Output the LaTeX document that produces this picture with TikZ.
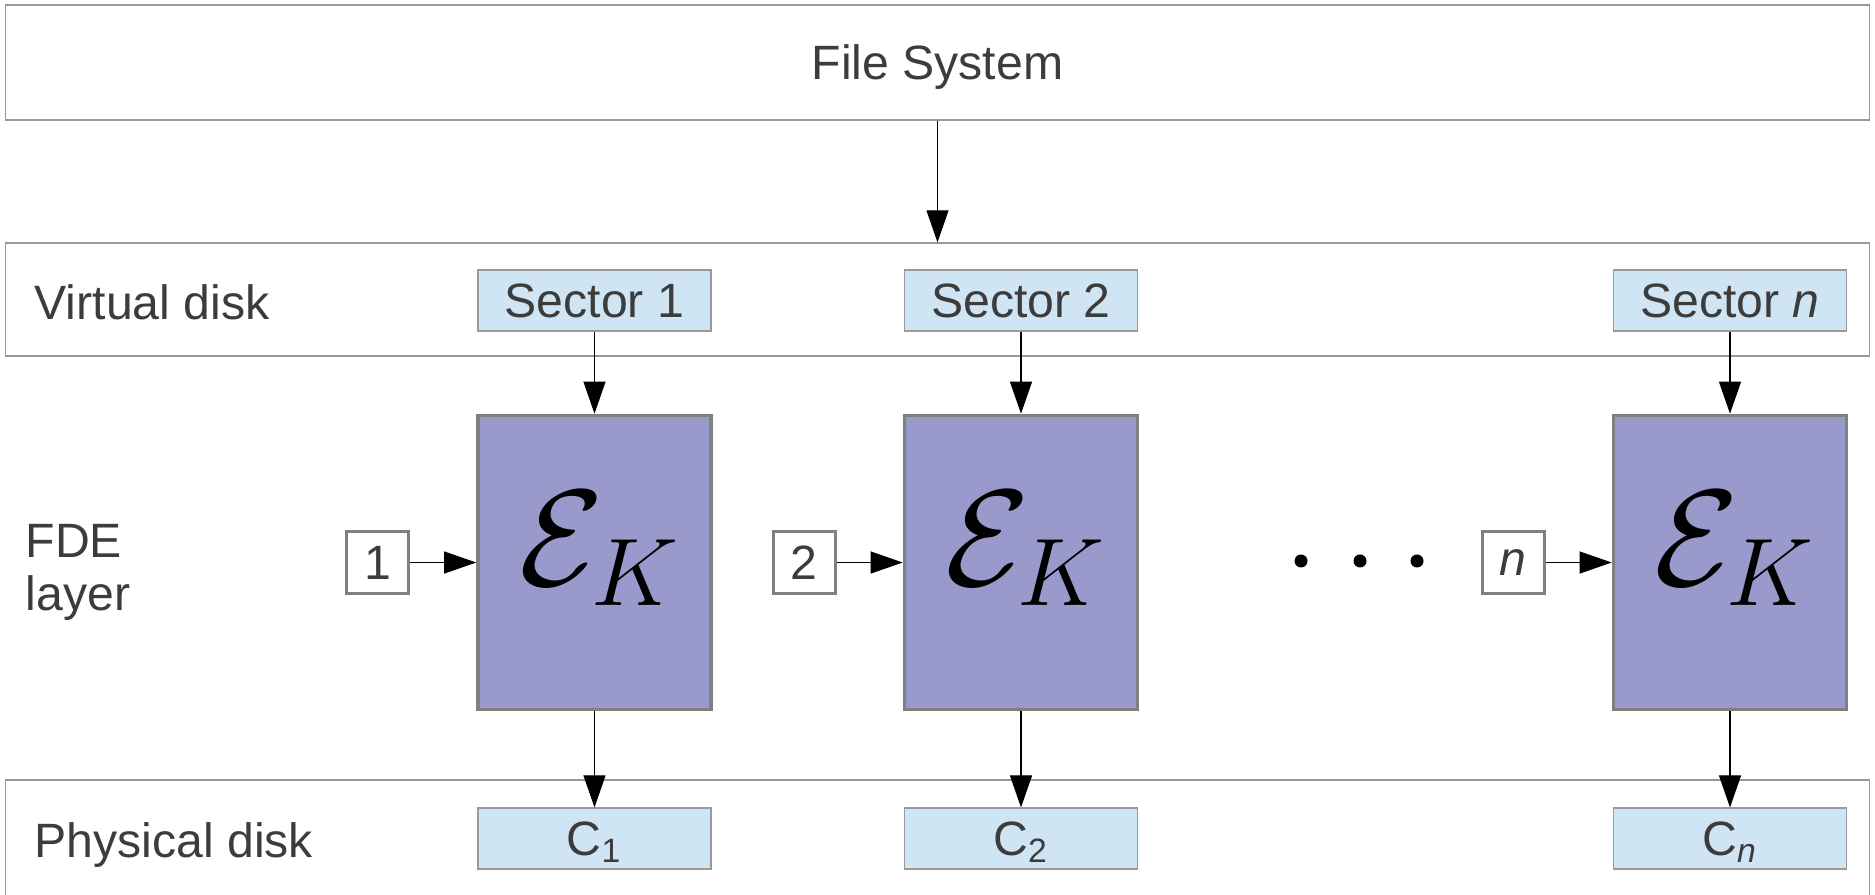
\RequirePackage{fix-cm}
\documentclass[tikz,border=0pt]{standalone}
\usepackage{fontspec}
\setmainfont{Liberation Sans}
\usetikzlibrary{shapes.geometric, arrows.meta, positioning}
\definecolor{txtgray}{HTML}{3C3C3C}
\definecolor{boxgray}{HTML}{999999}
\definecolor{encgray}{HTML}{808080}
\definecolor{encfill}{HTML}{9999CC}
\definecolor{secfill}{HTML}{CFE5F3}
\tikzstyle{layer} = [rectangle, draw=boxgray, line width=0.35pt, minimum width=18.63cm, inner sep=0pt, text depth=0pt, text=txtgray]
\tikzstyle{layername} = [inner sep=0pt, text=txtgray, align=left]
\tikzstyle{sector} = [rectangle, draw=boxgray, fill=secfill, line width=0.35pt, minimum width=2.33cm, minimum height=0.61cm, inner sep=0pt, text depth=0pt, text=txtgray]
\tikzstyle{enc} = [rectangle, draw=encgray, fill=encfill, line width=1pt, minimum width=2.33cm, minimum height=2.94cm, inner sep=0pt, text depth=0.48cm, font=\fontsize{39}{41}\selectfont]
\tikzstyle{counter} = [rectangle, draw=encgray, line width=0.8pt, minimum width=0.62cm, minimum height=0.62cm, inner sep=0pt, text depth=0pt, text=txtgray]
\tikzstyle{dot} = [circle, fill=black, minimum size=0.13cm, inner sep=0pt]
\tikzstyle{arrow} = [line width=0.3pt, -{Triangle[length=0.32cm, width=0.22cm]}]

\begin{document}
\begin{tikzpicture}[x=0.01cm, y=-0.01cm, font=\fontsize{13.7}{15.1}\selectfont]
\useasboundingbox (0,0) rectangle (1875,895);

% layers
\node (fs) [layer, minimum height=1.15cm] at (937.5,62.5) {File System};
\node (vd) [layer, minimum height=1.13cm] at (937.5,299.5) {};
\node (pd) [layer, minimum height=2.3cm] at (937.5,895) {};

\node (vdname) [layername, anchor=base west] at (34,319.5) {Virtual disk};
\node (fdename) [layername, anchor=west] at (25,572) {FDE\\layer};
\node (pdname) [layername, anchor=base west] at (34,858) {Physical disk};

% sectors
\node (sec1) [sector] at (594.5,300.5) {Sector 1};
\node (sec2) [sector] at (1021,300.5) {Sector 2};
\node (secn) [sector] at (1730,300.5) {Sector \textit{n}};

% encryption
\node (enc1) [enc, below=0.82cm of sec1] {\hspace{0.1cm}$\mathcal{E}_K$};
\node (enc2) [enc, below=0.82cm of sec2] {\hspace{0.1cm}$\mathcal{E}_K$};
\node (encn) [enc, below=0.82cm of secn] {\hspace{0.1cm}$\mathcal{E}_K$};

\node (cnt1) [counter, left=0.66cm of enc1] {1};
\node (cnt2) [counter, left=0.66cm of enc2] {2};
\node (cntn) [counter, left=0.66cm of encn] {\textit{n}};

\node (dot1) [dot] at (1301,561) {};
\node (dot2) [dot] at (1360,561) {};
\node (dot3) [dot] at (1417,561) {};

% ciphertexts
\node (c1) [sector, below=0.96cm of enc1] {C\textsubscript{1}};
\node (c2) [sector, below=0.96cm of enc2] {C\textsubscript{2}};
\node (cn) [sector, below=0.96cm of encn] {C\textsubscript{\textit{n}}};

\draw [arrow] (fs) -- (vd);
\draw [arrow] (sec1) -- (enc1);
\draw [arrow] (sec2) -- (enc2);
\draw [arrow] (secn) -- (encn);
\draw [arrow] (cnt1) -- (enc1);
\draw [arrow] (cnt2) -- (enc2);
\draw [arrow] (cntn) -- (encn);
\draw [arrow] (enc1) -- (c1);
\draw [arrow] (enc2) -- (c2);
\draw [arrow] (encn) -- (cn);

\end{tikzpicture}
\end{document}
